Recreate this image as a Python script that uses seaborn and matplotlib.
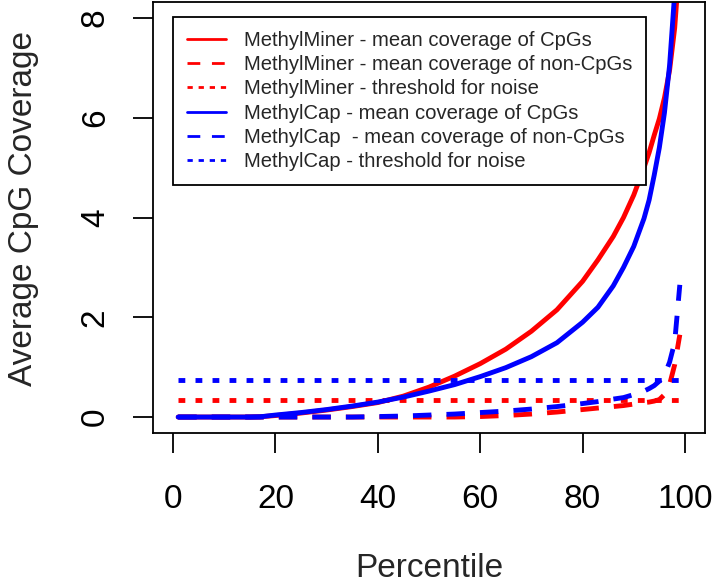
import matplotlib
matplotlib.use("Agg")
import matplotlib.pyplot as plt
import seaborn as sns
import numpy as np
import pandas as pd

# ---- data ----
percentile = [1, 5, 10, 15, 17, 20, 25, 30, 35, 40, 45, 50, 55, 60, 65, 70, 75,
              80, 83, 86, 88, 90, 92, 93, 94, 95, 96, 97, 98, 99]
miner_cpg = [0, 0, 0, 0, 0.005, 0.03, 0.08, 0.14, 0.21, 0.29, 0.42, 0.60, 0.82, 1.07,
             1.36, 1.72, 2.15, 2.72, 3.15, 3.62, 4.0, 4.45, 5.0, 5.3, 5.65, 5.98,
             6.4, 6.95, 7.8, 9.2]
miner_noncpg = [0, 0, 0, 0, 0, 0, 0, 0, 0, 0, 0, 0, 0.0, 0.01, 0.03, 0.06, 0.10,
                0.15, 0.18, 0.21, 0.23, 0.26, 0.29, 0.30, 0.32, 0.35, 0.45, 0.65,
                1.05, 1.65]
cap_cpg = [0, 0, 0, 0, 0.005, 0.04, 0.09, 0.15, 0.22, 0.30, 0.40, 0.52, 0.65, 0.81,
           0.99, 1.21, 1.49, 1.9, 2.2, 2.63, 3.0, 3.42, 3.98, 4.35, 4.85, 5.4,
           6.1, 7.05, 8.5, 11.0]
cap_noncpg = [0, 0, 0, 0, 0, 0, 0, 0, 0, 0.01, 0.02, 0.04, 0.06, 0.09, 0.12, 0.16,
              0.21, 0.27, 0.31, 0.36, 0.39, 0.45, 0.52, 0.57, 0.63, 0.72, 0.84,
              1.1, 1.5, 2.65]
miner_threshold = 0.34
cap_threshold = 0.74

labels = ["MethylMiner - mean coverage of CpGs",
          "MethylMiner - mean coverage of non-CpGs",
          "MethylMiner - threshold for noise",
          "MethylCap - mean coverage of CpGs",
          "MethylCap  - mean coverage of non-CpGs",
          "MethylCap - threshold for noise"]
x_ticks = [0, 20, 40, 60, 80, 100]
y_ticks = [0, 2, 4, 6, 8]

# ---- style ----
sns.set_theme(style="ticks")
plt.rcParams['font.family'] = ['Liberation Sans', 'DejaVu Sans']

fig = plt.figure(figsize=(7.12, 5.87), dpi=100)
ax = fig.add_axes([153/712, (587-433)/587, (705-153)/712, (433-2)/587])

RED = "#ff0000"
BLUE = "#0000ff"
LW = 3.5
DASHED = (0, (3.8, 3.1))
DOTTED = (0, (1.4, 2.1))

df = pd.DataFrame({"percentile": percentile,
                   "miner_cpg": miner_cpg, "miner_noncpg": miner_noncpg,
                   "cap_cpg": cap_cpg, "cap_noncpg": cap_noncpg})
df["miner_thr"] = miner_threshold
df["cap_thr"] = cap_threshold

series = [
    ("miner_cpg", RED, "-", labels[0]),
    ("miner_noncpg", RED, DASHED, labels[1]),
    ("miner_thr", RED, DOTTED, labels[2]),
    ("cap_cpg", BLUE, "-", labels[3]),
    ("cap_noncpg", BLUE, DASHED, labels[4]),
    ("cap_thr", BLUE, DOTTED, labels[5]),
]
for col, color, ls, lab in series:
    sns.lineplot(data=df, x="percentile", y=col, color=color, linestyle=ls,
                 linewidth=LW, label=lab, ax=ax, estimator=None, sort=True)

for ln in ax.lines:
    ln.set_dash_capstyle("butt")
    ln.set_solid_capstyle("round")

ax.set_xlim(-3.92, 103.92)
ax.set_ylim(-0.32, 8.32)
ax.set_xticks(x_ticks)
ax.set_yticks(y_ticks)
ax.set_xticklabels([str(v) for v in x_ticks])
ax.set_yticklabels([str(v) for v in y_ticks], rotation=90, va="center")
ax.tick_params(axis="both", direction="out", length=14.4, width=1.3,
               labelsize=24, colors="black")
ax.tick_params(axis="x", pad=22)
ax.tick_params(axis="y", pad=16)
for sp in ax.spines.values():
    sp.set_visible(True)
    sp.set_linewidth(1.3)
    sp.set_color("black")

ax.set_xlabel("Percentile", fontsize=24, labelpad=28)
ax.set_ylabel("Average CpG Coverage", fontsize=24)
ax.yaxis.set_label_coords(-0.207, 0.522)

leg = ax.legend(loc="upper left", bbox_to_anchor=((173-153)/552, (433-17)/431),
                borderaxespad=0, frameon=True, fancybox=False, shadow=False,
                fontsize=14.6, handlelength=1.95, handletextpad=0.85,
                borderpad=0.68, labelspacing=0.26)
legend_styles = ["-", (0, (4.6, 4.2)), (0, (1.9, 2.1)),
                 "-", (0, (4.6, 4.2)), (0, (1.9, 2.1))]
for h, st in zip(leg.get_lines(), legend_styles):
    h.set_linewidth(2.0)
    h.set_linestyle(st)
    h.set_dash_capstyle("butt")
frame = leg.get_frame()
frame.set_edgecolor("black")
frame.set_linewidth(1.3)
frame.set_facecolor("white")
frame.set_alpha(1)

fig.savefig("out.png", dpi=100)
